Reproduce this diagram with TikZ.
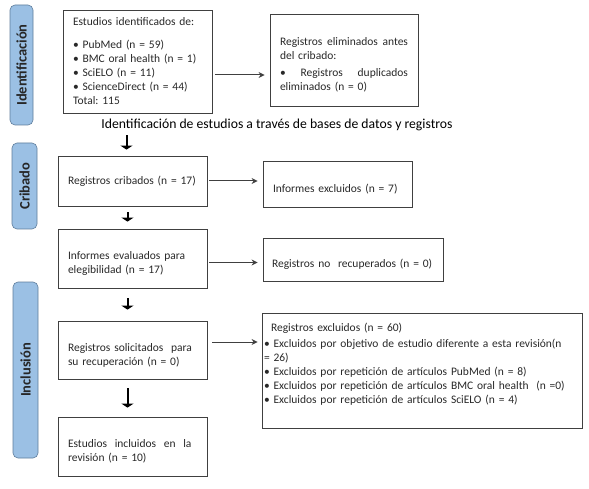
\documentclass[tikz,border=0pt]{standalone}
\usepackage{fontspec}
\setmainfont{Carlito}
\usetikzlibrary{arrows.meta,positioning,calc}
\definecolor{tabblue}{RGB}{155,192,228}
\definecolor{tabedge}{RGB}{95,125,155}
\definecolor{boxgray}{RGB}{64,64,64}
\definecolor{txtgray}{RGB}{40,40,40}

\begin{document}
\begin{tikzpicture}[x=1pt, y=-1pt,
    phase/.style={rectangle, rounded corners=5pt, draw=tabedge, line width=0.6pt, fill=tabblue, font=\fontsize{14.5}{16}\selectfont\bfseries, text=black!85, rotate=90, inner sep=0pt},
    box/.style={rectangle, draw=boxgray, line width=0.8pt, align=left, inner xsep=10pt, inner ysep=0pt, text=txtgray, font=\fontsize{11.5}{14}\selectfont},
    low/.style={execute at begin node=\rule{0pt}{18pt}},
    flow/.style={-{Triangle[length=4pt,width=12pt]}, line width=2pt},
    side/.style={-{Stealth[length=6pt,width=6pt]}, line width=1pt, boxgray}
]
\useasboundingbox (0,0) rectangle (589,489);

% Phase tabs
\node[phase, minimum width=120, minimum height=23] (t_id) at (21.5,65) {Identificación};
\node[phase, minimum width=86, minimum height=25] (t_cr) at (24.5,186) {Cribado};
\node[phase, minimum width=176, minimum height=25] (t_in) at (25.5,370) {Inclusión};

% Identification
\node[box, text width=129, minimum height=103] (ident) at (137.5,61.5) {Estudios identificados de:\\[9pt]
  • PubMed (n = 59)\\
  • BMC oral health (n = 1)\\
  • SciELO (n = 11)\\
  • ScienceDirect (n = 44)\\
  Total:\ 115};
\node[box, low, text width=128, minimum height=92] (elim) at (344,60) {Registros\hfill eliminados\hfill antes\\
  del cribado:\\[3pt]
  •\hfill Registros\hfill duplicados\\
  eliminados (n = 0)};
\node[font=\fontsize{13.7}{16}\selectfont, text=black] (title) at (277,125) {Identificación de estudios a través de bases de datos y registros};

% Screening
\node[box, text width=129, minimum height=50] (crib) at (132.5,181) {Registros cribados (n = 17)};
\node[box, low, text width=129, minimum height=59] (eval) at (132.5,258.5) {Informes evaluados para\\ elegibilidad (n = 17)};
\node[box, low, text width=129, minimum height=46] (infexc) at (337.5,184) {Informes excluidos (n = 7)};
\node[box, low, inner xsep=9pt, text width=162, minimum height=43] (norec) at (353,259.5) {Registros no\ \ recuperados (n = 0)};

% Inclusion
\node[box, low, text width=129, minimum height=58] (solic) at (132.5,350) {Registros solicitados\ \ para\\ su recuperación (n = 0)};
\node[box, low, text width=129, minimum height=59] (incl) at (132.5,446.5) {Estudios\ \ incluidos\ \ en\ \ la\\ revisión (n = 10)};
\node[box, inner xsep=2pt, text width=316, minimum height=115] (regexc) at (422,370.5) {\hspace{7pt}Registros excluidos (n = 60)\\[2pt]
  • Excluidos por objetivo de estudio diferente a esta revisión(n\\
  = 26)\\
  • Excluidos por repetición de artículos PubMed (n = 8)\\
  • Excluidos por repetición de artículos BMC oral health\ \ (n =0)\\
  • Excluidos por repetición de artículos SciELO (n = 4)\\ \mbox{}};

% Main flow
\draw[flow, shorten <=1pt, shorten >=6pt] ($(title.south -| crib.north)+(-6,0)$) -- ($(crib.north)+(-6,0)$);
\draw[flow, shorten <=6pt, shorten >=7pt] ($(crib.south)+(-5,0)$) -- ($(eval.north)+(-5,0)$);
\draw[flow, shorten <=10pt, shorten >=11pt] ($(eval.south)+(-5,0)$) -- ($(solic.north)+(-5,0)$);
\draw[flow, shorten <=9pt, shorten >=9pt] ($(solic.south)+(-5,0)$) -- ($(incl.north)+(-5,0)$);

% Side arrows
\draw[side] ($(ident.east)+(2.5,13.5)$) -- ($(ident.east -| elim.west)+(-5,13.5)$);
\draw[side] ($(crib.east)+(2,0)$) -- ($(crib.east -| infexc.west)+(-5,0)$);
\draw[side] ($(eval.east)+(2,4)$) -- ($(eval.east -| norec.west)+(-5,4)$);
\draw[side] ($(solic.east)+(5,-8)$) -- ($(solic.east -| regexc.west)+(-4,-8)$);
\end{tikzpicture}
\end{document}
